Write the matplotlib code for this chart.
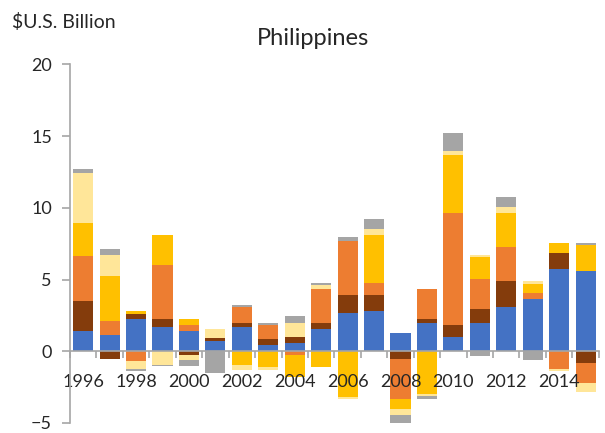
import matplotlib
matplotlib.use("Agg")
import matplotlib.pyplot as plt
import numpy as np

plt.rcParams['font.family'] = ['Lato', 'DejaVu Sans']

# years and stacked components ($US billion)
years = list(range(1996, 2016))
blue = [1.42, 1.16, 2.28, 1.69, 1.42, 0.74, 1.69, 0.46, 0.60, 1.58,
        2.70, 2.81, 1.30, 2.00, 1.00, 2.00, 3.09, 3.65, 5.74, 5.60]
brown = [2.11, -0.51, 0.35, 0.56, -0.23, 0.17, 0.31, 0.42, 0.40, 0.39,
         1.25, 1.14, -0.51, 0.23, 0.86, 0.95, 1.81, 0.00, 1.14, -0.79]
orange = [3.09, 0.98, -0.67, 3.79, 0.41, 0.00, 1.07, 0.97, -0.23, 2.40,
          3.74, 0.81, -2.81, 2.11, 7.78, 2.09, 2.37, 0.44, -1.21, -1.42]
yellow = [2.35, 3.09, 0.18, 2.09, 0.42, 0.00, -0.98, -1.09, -1.56, -1.09,
          -3.18, 3.37, -0.67, -2.95, 4.06, 1.53, 2.39, 0.58, 0.69, 1.83]
light_yellow = [3.47, 1.51, -0.54, -0.98, -0.40, 0.65, -0.34, -0.23, 1.00, 0.28,
                -0.12, 0.37, -0.42, -0.19, 0.26, 0.14, 0.40, 0.26, -0.16, -0.63]
gray = [0.29, 0.42, -0.15, -0.07, -0.42, -1.49, 0.18, 0.12, 0.44, 0.14,
        0.28, 0.75, -0.57, -0.16, 1.28, -0.35, 0.72, -0.63, 0.00, 0.12]

series = [blue, brown, orange, yellow, light_yellow, gray]
colors = ['#4472C4', '#843C0C', '#ED7D31', '#FFC000', '#FFE699', '#A5A5A5']

fig = plt.figure(figsize=(6.05, 4.33), dpi=100)
ax = fig.add_axes([0.1157, 0.0231, 0.874, 0.828])

x = np.arange(len(years))
pos_base = np.zeros(len(years))
neg_base = np.zeros(len(years))
for vals, c in zip(series, colors):
    v = np.array(vals)
    p = np.where(v > 0, v, 0)
    n = np.where(v < 0, v, 0)
    ax.bar(x, p, 0.76, bottom=pos_base, color=c, linewidth=0)
    ax.bar(x, n, 0.76, bottom=neg_base, color=c, linewidth=0)
    pos_base += p
    neg_base += n

ax.set_xlim(-0.5, len(years) - 0.5)
ax.set_ylim(-5, 20)

txt = '#262626'
axc = '#A6A6A6'
for s in ['top', 'right']:
    ax.spines[s].set_visible(False)
ax.spines['bottom'].set_position(('data', 0))
ax.spines['bottom'].set_color(axc)
ax.spines['left'].set_color(axc)
ax.spines['bottom'].set_linewidth(1.2)
ax.spines['left'].set_linewidth(1.2)

ax.set_yticks([-5, 0, 5, 10, 15, 20])
ax.tick_params(axis='y', length=6, width=1.2, color=axc, pad=7,
               labelsize=13, labelcolor=txt)

ax.set_xticks(x[::2])
ax.set_xticklabels([str(y) for y in years[::2]])
ax.set_xticks(np.arange(-0.5, len(years), 1), minor=True)
ax.tick_params(axis='x', which='major', length=0, pad=16,
               labelsize=13, labelcolor=txt)
ax.tick_params(axis='x', which='minor', length=5, width=1.2, color=axc)

fig.text(0.517, 0.91, 'Philippines', ha='center', va='center',
         fontsize=17, color=txt)
fig.text(0.02, 0.95, '$U.S. Billion', ha='left', va='center',
         fontsize=14, color=txt)

fig.savefig('out.png', dpi=100)
